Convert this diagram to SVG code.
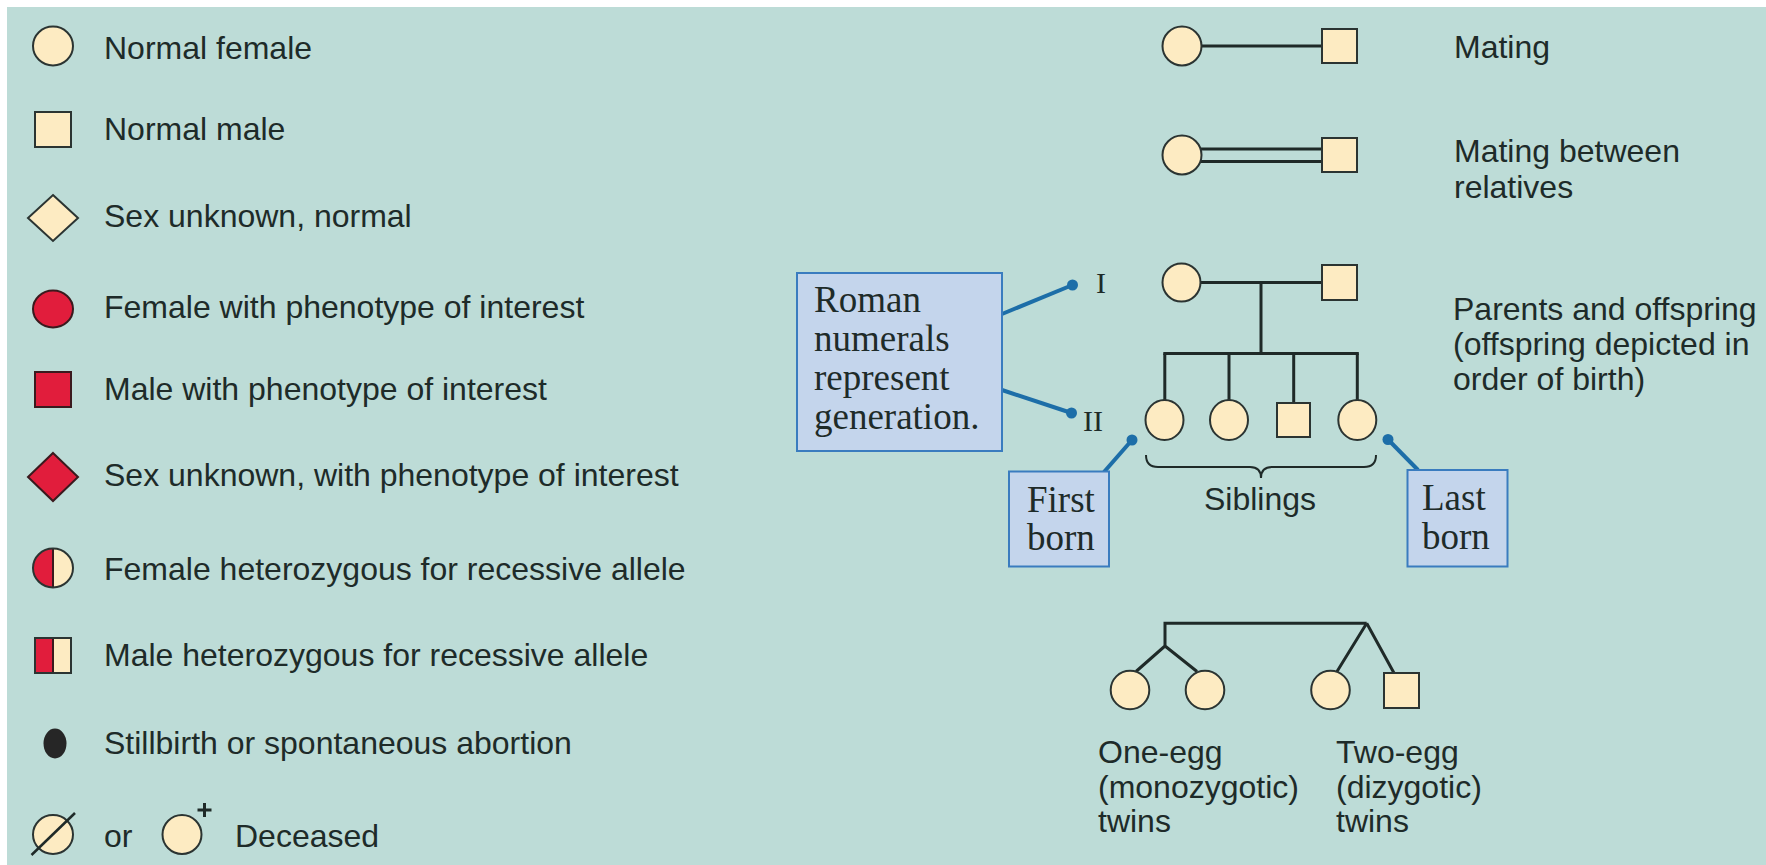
<svg xmlns="http://www.w3.org/2000/svg" width="1766" height="865" viewBox="0 0 1766 865">
<style>
.t{font-family:"Liberation Sans",Arial,sans-serif;font-size:32px;fill:#1e2b29}
.s{font-family:"Liberation Serif","Times New Roman",serif;font-size:37px;fill:#1e2b29}
.rn{font-family:"Liberation Serif","Times New Roman",serif;font-size:30px;fill:#1e2b29}
.cr{fill:#fdebc2;stroke:#2b3432;stroke-width:2}
.rd{fill:#e11d3c;stroke:#3a1a1e;stroke-width:2}
.ol{fill:none;stroke:#2b3432;stroke-width:2}
.ln{fill:none;stroke:#1f2a28;stroke-width:3}
.bx{fill:#c4d5ec;stroke:#3a7cbf;stroke-width:2}
.bl{fill:none;stroke:#1d6ea8;stroke-width:4}
.dot{fill:#1d6ea8}
</style>
<rect x="0" y="0" width="1766" height="865" fill="#ffffff"/>
<rect x="7" y="7" width="1759" height="858" fill="#bddcd7"/>

<g id="legend-normal-female"><ellipse class="cr" cx="53" cy="46" rx="20" ry="19.5"/><text class="t" x="104" y="59">Normal female</text></g>
<g id="legend-normal-male"><rect class="cr" x="35" y="112" width="36" height="35"/><text class="t" x="104" y="140">Normal male</text></g>
<g id="legend-unknown-normal"><polygon class="cr" points="53,195 78,218 53,241 28,218"/><text class="t" x="104" y="227">Sex unknown, normal</text></g>
<g id="legend-female-pheno"><ellipse class="rd" cx="53" cy="309" rx="20" ry="18.5"/><text class="t" x="104" y="318">Female with phenotype of interest</text></g>
<g id="legend-male-pheno"><rect class="rd" x="35" y="372" width="36" height="35"/><text class="t" x="104" y="400">Male with phenotype of interest</text></g>
<g id="legend-unknown-pheno"><polygon class="rd" points="53,453 78,477 53,501 28,477"/><text class="t" x="104" y="486">Sex unknown, with phenotype of interest</text></g>
<g id="legend-female-het">
<ellipse cx="53" cy="568" rx="20" ry="19.5" fill="#fdebc2"/>
<path d="M53,548.5 A20,19.5 0 0 0 53,587.5 Z" fill="#e11d3c"/>
<line x1="53" y1="548.5" x2="53" y2="587.5" stroke="#3a1a1e" stroke-width="2"/>
<ellipse class="ol" cx="53" cy="568" rx="20" ry="19.5"/>
<text class="t" x="104" y="580">Female heterozygous for recessive allele</text></g>
<g id="legend-male-het">
<rect x="35" y="638" width="36" height="35" fill="#fdebc2"/>
<rect x="35" y="638" width="18" height="35" fill="#e11d3c"/>
<line x1="53" y1="638" x2="53" y2="673" stroke="#3a1a1e" stroke-width="2"/>
<rect class="ol" x="35" y="638" width="36" height="35"/>
<text class="t" x="104" y="666">Male heterozygous for recessive allele</text></g>
<g id="legend-stillbirth"><ellipse cx="55" cy="743.5" rx="11.5" ry="15" fill="#262626"/><text class="t" x="104" y="754">Stillbirth or spontaneous abortion</text></g>
<g id="legend-deceased">
<ellipse class="cr" cx="53" cy="834.5" rx="20" ry="19.5"/>
<line x1="31.5" y1="855" x2="75" y2="813" stroke="#1f2a28" stroke-width="2.5"/>
<text class="t" x="104" y="847">or</text>
<ellipse class="cr" cx="182" cy="834.5" rx="19.5" ry="19.5"/>
<path d="M204.5,803 V817 M197.5,810 H211.5" stroke="#1f2a28" stroke-width="3" fill="none"/>
<text class="t" x="235" y="847">Deceased</text></g>

<g id="connectors">
<line class="ln" x1="1201" y1="46" x2="1322" y2="46"/>
<line class="ln" x1="1199" y1="149" x2="1322" y2="149"/>
<line class="ln" x1="1199" y1="161.5" x2="1322" y2="161.5"/>
<line class="ln" x1="1200" y1="282.5" x2="1322" y2="282.5"/>
<line class="ln" x1="1261" y1="282.5" x2="1261" y2="353.5"/>
<line class="ln" x1="1163.3" y1="353.5" x2="1358.8" y2="353.5"/>
<line class="ln" x1="1164.8" y1="353.5" x2="1164.8" y2="401"/>
<line class="ln" x1="1229" y1="353.5" x2="1229" y2="401"/>
<line class="ln" x1="1293.7" y1="353.5" x2="1293.7" y2="403"/>
<line class="ln" x1="1357.3" y1="353.5" x2="1357.3" y2="401"/>
<path class="ln" d="M1163.5,623.3 H1366.7 M1165,623.3 V646 L1136,671.5 M1165,646 L1197,671.5 M1366.7,623.3 L1337,671.5 M1366.7,623.3 L1394,673"/>
<path d="M1146,455 Q1146,467 1158,467 L1250,467 Q1261,467 1261,478 Q1261,467 1272,467 L1364,467 Q1376,467 1376,455" fill="none" stroke="#1f2a28" stroke-width="2"/>
<line class="bl" x1="1002" y1="314" x2="1072.5" y2="285"/>
<line class="bl" x1="1002" y1="390" x2="1071.5" y2="413"/>
<line class="bl" x1="1132" y1="440" x2="1104" y2="472"/>
<line class="bl" x1="1388" y1="439.5" x2="1418" y2="470"/>
<circle class="dot" cx="1072.5" cy="285" r="5.5"/>
<circle class="dot" cx="1071.5" cy="413" r="5.5"/>
<circle class="dot" cx="1132" cy="440" r="5.5"/>
<circle class="dot" cx="1388" cy="439.5" r="5.5"/>
</g>

<g id="mating"><ellipse class="cr" cx="1182" cy="46" rx="19.5" ry="19.5"/><rect class="cr" x="1322" y="29" width="35" height="34"/><text class="t" x="1454" y="58">Mating</text></g>
<g id="mating-relatives"><ellipse class="cr" cx="1182" cy="155" rx="19.5" ry="19.5"/><rect class="cr" x="1322" y="138" width="35" height="34"/><text class="t" x="1454" y="162">Mating between</text><text class="t" x="1454" y="198">relatives</text></g>

<g id="parent-female"><ellipse class="cr" cx="1181.5" cy="282.5" rx="19" ry="19"/></g>
<g id="parent-male"><rect class="cr" x="1322" y="265" width="35" height="35"/></g>
<g id="sib1"><ellipse class="cr" cx="1164.5" cy="420" rx="19" ry="20"/></g>
<g id="sib2"><ellipse class="cr" cx="1229" cy="420" rx="19" ry="20"/></g>
<g id="sib3"><rect class="cr" x="1277" y="403" width="33" height="34"/></g>
<g id="sib4"><ellipse class="cr" cx="1357.3" cy="420" rx="19" ry="20"/></g>
<g id="parents-label"><text class="t" x="1453" y="320">Parents and offspring</text><text class="t" x="1453" y="355">(offspring depicted in</text><text class="t" x="1453" y="390">order of birth)</text></g>
<g id="gen-I"><text class="rn" x="1096" y="293">I</text></g>
<g id="gen-II"><text class="rn" x="1083" y="431">II</text></g>
<g id="siblings-label"><text class="t" x="1204" y="510">Siblings</text></g>
<g id="roman-box"><rect class="bx" x="797" y="273" width="205" height="178"/>
<text class="s" x="814" y="312">Roman</text><text class="s" x="814" y="351">numerals</text><text class="s" x="814" y="390">represent</text><text class="s" x="814" y="429">generation.</text></g>
<g id="first-born"><rect class="bx" x="1009" y="471.5" width="100" height="95"/><text class="s" x="1027" y="512">First</text><text class="s" x="1027" y="550">born</text></g>
<g id="last-born"><rect class="bx" x="1407.5" y="470" width="100" height="96.5"/><text class="s" x="1422" y="510">Last</text><text class="s" x="1422" y="549">born</text></g>

<g id="twin-mz1"><ellipse class="cr" cx="1130" cy="690" rx="19.3" ry="19.3"/></g>
<g id="twin-mz2"><ellipse class="cr" cx="1205" cy="690" rx="19.3" ry="19.3"/></g>
<g id="twin-dz1"><ellipse class="cr" cx="1330.5" cy="690" rx="19.3" ry="19.3"/></g>
<g id="twin-dz2"><rect class="cr" x="1384" y="673" width="35" height="35"/></g>
<g id="twins-labels"><text class="t" x="1098" y="763">One-egg</text><text class="t" x="1098" y="798">(monozygotic)</text><text class="t" x="1098" y="832">twins</text>
<text class="t" x="1336" y="763">Two-egg</text><text class="t" x="1336" y="798">(dizygotic)</text><text class="t" x="1336" y="832">twins</text></g>
</svg>
